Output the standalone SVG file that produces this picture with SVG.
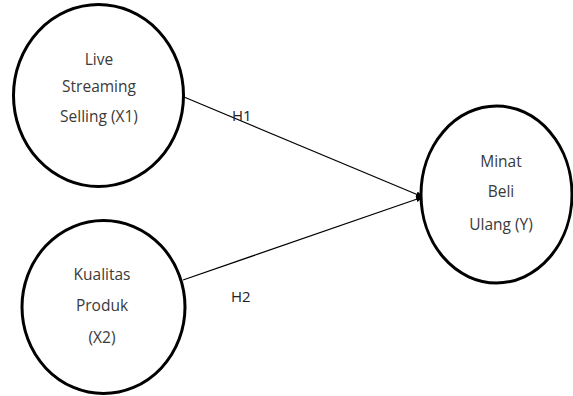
<svg xmlns="http://www.w3.org/2000/svg" width="573" height="396" viewBox="0 0 573 396">
<style>
.n{fill:#fff;stroke:#000;stroke-width:3}
.t{font-family:"Open Sans","Liberation Sans",sans-serif;font-size:15.5px;fill:#3a3a3a;text-anchor:middle}
.l{font-family:"Open Sans","Liberation Sans",sans-serif;font-size:15px;fill:#222}
.c{stroke:#000;stroke-width:1.2;fill:none}
</style>
<defs>
<marker id="ah" markerWidth="8" markerHeight="8" refX="7" refY="4" orient="auto" markerUnits="userSpaceOnUse">
<path d="M0,1 L8,4 L0,7 Z" fill="#000"/>
</marker>
</defs>
<rect width="573" height="396" fill="#fff"/>
<g id="connectors">
<line class="c" x1="184" y1="97" x2="423" y2="197" marker-end="url(#ah)"/>
<line class="c" x1="183" y1="280" x2="423" y2="197" marker-end="url(#ah)"/>
<text class="l" x="232" y="121">H1</text>
<text class="l" x="231" y="302">H2</text>
</g>
<g id="x1">
<ellipse class="n" cx="98.5" cy="95.5" rx="85" ry="91"/>
<text class="t" x="99" y="65">Live</text>
<text class="t" x="99" y="92">Streaming</text>
<text class="t" x="99" y="122">Selling (X1)</text>
</g>
<g id="x2">
<ellipse class="n" cx="103.5" cy="307" rx="81.5" ry="86.5"/>
<text class="t" x="102" y="280">Kualitas</text>
<text class="t" x="102" y="311">Produk</text>
<text class="t" x="102" y="343">(X2)</text>
</g>
<g id="y">
<ellipse class="n" cx="496.5" cy="194.5" rx="75.5" ry="88.5"/>
<text class="t" x="501" y="167">Minat</text>
<text class="t" x="501" y="197">Beli</text>
<text class="t" x="501" y="230">Ulang (Y)</text>
</g>
</svg>
